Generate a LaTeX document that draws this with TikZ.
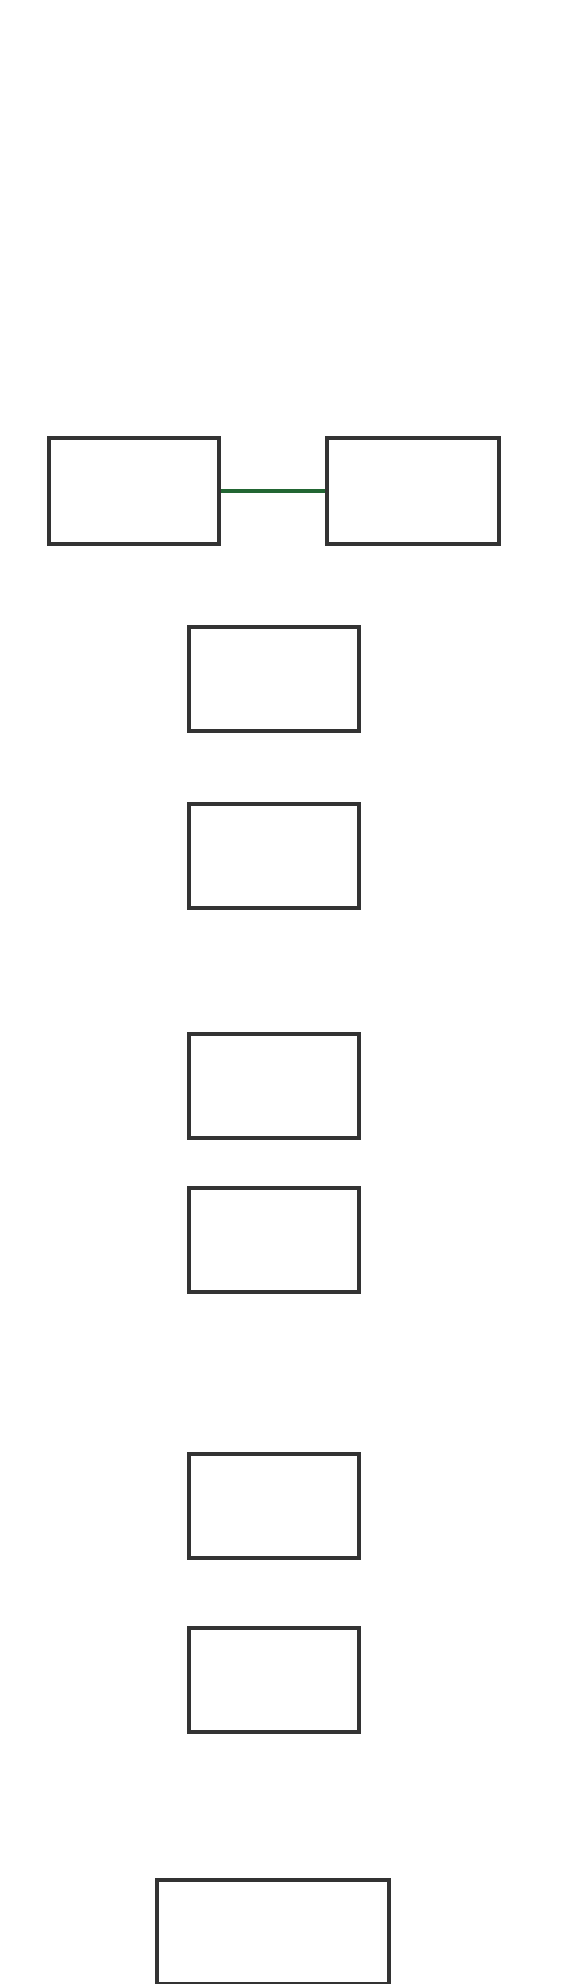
\documentclass[tikz,border=0pt]{standalone}
\usepackage{tikz}
\usetikzlibrary{positioning}

\definecolor{boxgray}{RGB}{51,51,51}
\definecolor{linkgreen}{RGB}{34,102,51}

\tikzset{
  stagebox/.style={draw=boxgray,line width=4pt,inner sep=0pt,
    minimum width=170pt,minimum height=104pt},
  widebox/.style={stagebox,minimum width=232pt},
  link/.style={draw=linkgreen,line width=4pt}
}

\begin{document}
\begin{tikzpicture}[x=1pt,y=-1pt]
    \useasboundingbox (0,0) rectangle (560,1984);
    % top pair
    \node[stagebox,minimum height=106pt] (left) at (134,491) {};
    \node[stagebox,minimum width=172pt,minimum height=106pt] (right) at (413,491) {};
    \draw[link] (left.east) -- (right.west);
    % middle column
    \node[stagebox] (s1) at (274,679) {};
    \node[stagebox] (s2) at (274,856) {};
    \node[stagebox] (s3) at (274,1086) {};
    \node[stagebox] (s4) at (274,1240) {};
    \node[stagebox] (s5) at (274,1506) {};
    \node[stagebox] (s6) at (274,1680) {};
    % bottom box, cut by the edge
    \node[widebox] (last) at (273,1932) {};
\end{tikzpicture}
\end{document}
